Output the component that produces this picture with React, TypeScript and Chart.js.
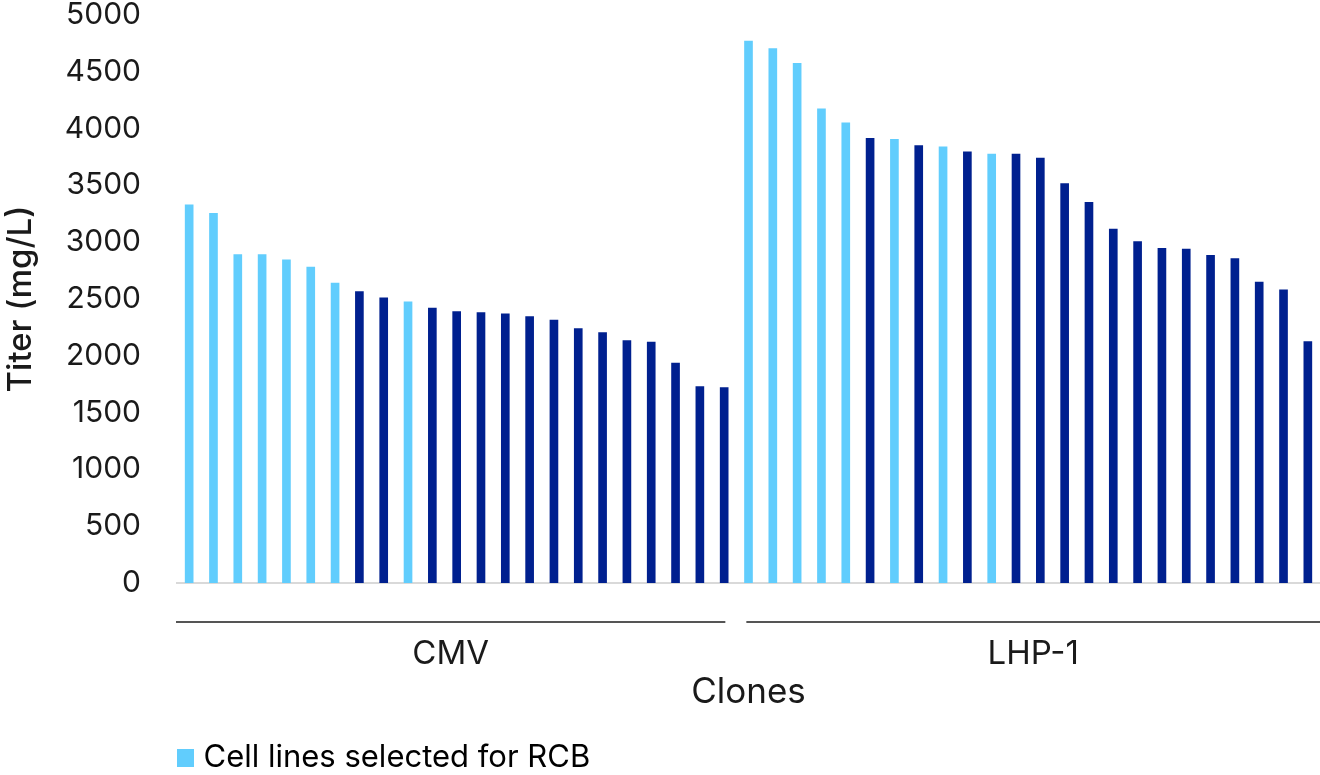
import React, { useEffect, useRef } from 'react';
import { Chart, registerables } from 'chart.js';

Chart.register(...registerables);

// ---- data ----
const groupNames = ['CMV', 'LHP-1'];
const cmvTiters = [3330, 3255, 2890, 2890, 2845, 2780, 2640, 2565, 2510, 2475, 2420, 2390, 2380, 2370, 2345, 2315, 2240, 2205, 2135, 2120, 1935, 1730, 1720];
const cmvSelected = [1, 1, 1, 1, 1, 1, 1, 0, 0, 1, 0, 0, 0, 0, 0, 0, 0, 0, 0, 0, 0, 0, 0];
const lhpTiters = [4770, 4705, 4575, 4175, 4050, 3915, 3905, 3850, 3840, 3795, 3775, 3775, 3740, 3515, 3350, 3115, 3005, 2945, 2940, 2885, 2855, 2650, 2580, 2125];
const lhpSelected = [1, 1, 1, 1, 1, 0, 1, 0, 1, 0, 1, 0, 0, 0, 0, 0, 0, 0, 0, 0, 0, 0, 0, 0];
const yMin = 0;
const yMax = 5000;
const yStep = 500;
const legendLabel = 'Cell lines selected for RCB';
const xTitle = 'Clones';
const yTitle = 'Titer (mg/L)';

const LIGHT = '#61CDFD';
const DARK = '#00208F';
const TEXT = '#1a1a1a';
const FONT = 'Inter';

const groupTiters = [cmvTiters, lhpTiters];
const groupSelected = [cmvSelected, lhpSelected];

export default function App() {
  const ref = useRef<HTMLCanvasElement | null>(null);

  useEffect(() => {
    document.body.style.margin = '0';
    const canvas = ref.current;
    if (!canvas) return;

    const labels: string[] = [];
    const values: number[] = [];
    const colors: string[] = [];
    groupNames.forEach((g, gi) => {
      groupTiters[gi].forEach((v, i) => {
        labels.push(g + ' clone ' + (i + 1));
        values.push(v);
        colors.push(groupSelected[gi][i] ? LIGHT : DARK);
      });
    });

    // legend swatch (18x18 square) used as the legend point style
    const swatch = document.createElement('canvas');
    swatch.width = 18;
    swatch.height = 18;
    const sctx = swatch.getContext('2d');
    if (sctx) {
      sctx.fillStyle = LIGHT;
      sctx.fillRect(0, 0, 18, 18);
    }

    const groupPlugin = {
      id: 'groupAxis',
      afterDraw(chart: any) {
        const x = chart.scales.x;
        const area = chart.chartArea;
        const ctx = chart.ctx;
        const half = (x.getPixelForValue(1) - x.getPixelForValue(0)) / 2;
        let start = 0;
        ctx.save();
        groupNames.forEach((g, gi) => {
          const end = start + groupTiters[gi].length - 1;
          let x0 = x.getPixelForValue(start) - half;
          let x1 = x.getPixelForValue(end) + half;
          if (gi > 0) x0 += 10;
          else x0 -= 1;
          if (gi < groupNames.length - 1) x1 -= 11;
          const ly = area.bottom + 39;
          ctx.strokeStyle = '#555555';
          ctx.lineWidth = 2;
          ctx.beginPath();
          ctx.moveTo(x0, ly);
          ctx.lineTo(x1, ly);
          ctx.stroke();
          ctx.fillStyle = TEXT;
          ctx.font = `33px ${FONT}`;
          ctx.textAlign = 'center';
          ctx.textBaseline = 'middle';
          ctx.fillText(g, (x0 + x1) / 2, area.bottom + 71);
          start = end + 1;
        });
        ctx.restore();
      },
    };

    const chart = new Chart(canvas, {
      type: 'bar',
      data: {
        labels,
        datasets: [
          {
            label: legendLabel,
            data: values,
            backgroundColor: colors,
            borderWidth: 0,
            barThickness: 8,
          },
        ],
      },
      options: {
        animation: false,
        responsive: false,
        maintainAspectRatio: false,
        devicePixelRatio: 1,
        layout: { padding: { top: 0, right: 0, left: 0, bottom: -8 } },
        plugins: {
          tooltip: { enabled: false },
          legend: {
            display: true,
            position: 'bottom',
            align: 'start',
            fullSize: false,
            labels: {
              boxWidth: 6,
              boxHeight: 18,
              padding: 5,
              usePointStyle: true,
              color: TEXT,
              font: { family: FONT, size: 31 },
              generateLabels: () => [
                {
                  text: legendLabel,
                  fillStyle: LIGHT,
                  strokeStyle: LIGHT,
                  lineWidth: 0,
                  hidden: false,
                  pointStyle: swatch,
                  datasetIndex: 0,
                },
              ],
            },
          },
        },
        scales: {
          x: {
            grid: { display: false, drawTicks: false },
            border: { display: true, color: '#d9d9d9', width: 2 },
            ticks: { display: false },
            title: {
              display: true,
              text: xTitle,
              color: TEXT,
              font: { family: FONT, size: 35 },
              padding: { top: 0, bottom: 24 },
            },
            afterFit: (s: any) => {
              s.height = 154;
            },
          },
          y: {
            min: yMin,
            max: yMax,
            grid: { display: false, drawTicks: true, tickLength: 36 },
            border: { display: false },
            ticks: {
              stepSize: yStep,
              color: TEXT,
              padding: 0,
              font: { family: FONT, size: 30, lineHeight: 1 },
              callback: (v: any) => String(v),
            },
            title: {
              display: true,
              text: yTitle,
              color: TEXT,
              font: { family: FONT, size: 33, weight: '500' },
              padding: { top: 1, bottom: 0 },
            },
            afterFit: (s: any) => {
              s.width = 177;
            },
          },
        },
      },
      plugins: [groupPlugin],
    });

    return () => chart.destroy();
  }, []);

  return (
    <div style={{ width: 1320, height: 775 }}>
      <canvas ref={ref} width={1320} height={775} style={{ display: 'block' }} />
    </div>
  );
}
